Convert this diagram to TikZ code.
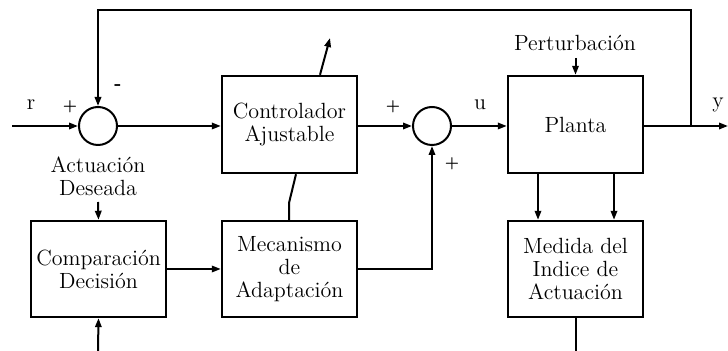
\documentclass[tikz,border=0pt]{standalone}
\usetikzlibrary{arrows.meta,calc}
\begin{document}
\begin{tikzpicture}[x=0.5pt,y=-0.5pt,
  line width=1pt,
  >={Triangle[length=4.5pt,width=3.2pt]},
  blk/.style={draw,line width=1.2pt,minimum width=67.5pt,minimum height=48.5pt,inner sep=1pt,align=center,font=\fontsize{11}{11.5}\selectfont},
  sumc/.style={draw,circle,line width=1pt,minimum size=19pt,inner sep=0pt},
  lbl/.style={inner sep=0pt,font=\fontsize{11}{11.5}\selectfont,align=center},
  sgn/.style={inner sep=0pt,font=\fontsize{7.5}{7.5}\selectfont\bfseries}]
\useasboundingbox (0,0) rectangle (728,351);
% nodes
\node[sumc] (s1) at (98,126) {};
\node[blk] (ctrl) at (289.5,124.5) {Controlador\\Ajustable};
\node[sumc] (s2) at (432,126) {};
\node[blk] (plant) at (575.5,124.5) {Planta};
\node[blk,minimum height=48pt] (comp) at (98.5,269) {Comparación\\Decisión};
\node[blk,minimum height=48pt] (mec) at (289.5,269) {Mecanismo\\de\\Adaptación};
\node[blk,minimum height=48pt] (med) at (575.5,269) {Medida del\\Indice de\\Actuación};
% labels
\node[lbl] (r) at (31,105) {r};
\node[lbl] (u) at (480,105) {u};
\node[lbl] (y) at (718,105) {y};
\node[lbl] (pert) at (575,43) {Perturbación};
\node[lbl] (act) at (98,176) {Actuación\\Deseada};
\node[sgn] (p1) at (70,107) {+};
\node[sgn,font=\fontsize{9}{9}\selectfont\bfseries] (m1) at (118,87) {-};
\node[sgn] (p2) at (393,107) {+};
\node[sgn] (p3) at (452,164) {+};
% coordinates
\coordinate (in) at (12,126);
\coordinate (out) at (728,126);
\coordinate (br) at (691,126);
\coordinate (fbr) at (691,10);
\coordinate (fbl) at (98,10);
\coordinate (adj) at (330,38);
\coordinate (kink) at (289,203);
\coordinate (mecc) at (432,269);
\coordinate (bot1) at (98,351);
\coordinate (bot2) at (575.5,351);
\coordinate (desT) at (98,202);
\coordinate (pertT) at (575.5,58);
% connectors
\draw[->] (in) -- (s1.west);
\draw[->] (s1.east) -- (ctrl.west |- s1.east);
\draw[->] (ctrl.east |- s2.west) -- (s2.west);
\draw[->] (s2.east) -- (plant.west |- s2.east);
\draw[->] (plant.east |- out) -- (out);
\draw[->] (br) -- (fbr) -- (fbl) -- (s1.north);
\draw[->] ($(ctrl.north)+(30.5,0)$) -- (adj);
\draw (mec.north -| kink) -- (kink) -- ($(ctrl.south)+(6.5,0)$);
\draw[->] (comp.east) -- (mec.west);
\draw[->] (desT) -- (comp.north);
\draw[->] (bot1) -- (comp.south);
\draw[->] (mec.east) -- (mecc) -- (s2.south);
\draw[->] (pertT) -- (plant.north);
\draw[->] ($(plant.south)+(-37.5,0)$) -- ($(med.north)+(-37.5,0)$);
\draw[->] ($(plant.south)+(38.5,0)$) -- ($(med.north)+(38.5,0)$);
\draw (med.south) -- (bot2);
\end{tikzpicture}
\end{document}
